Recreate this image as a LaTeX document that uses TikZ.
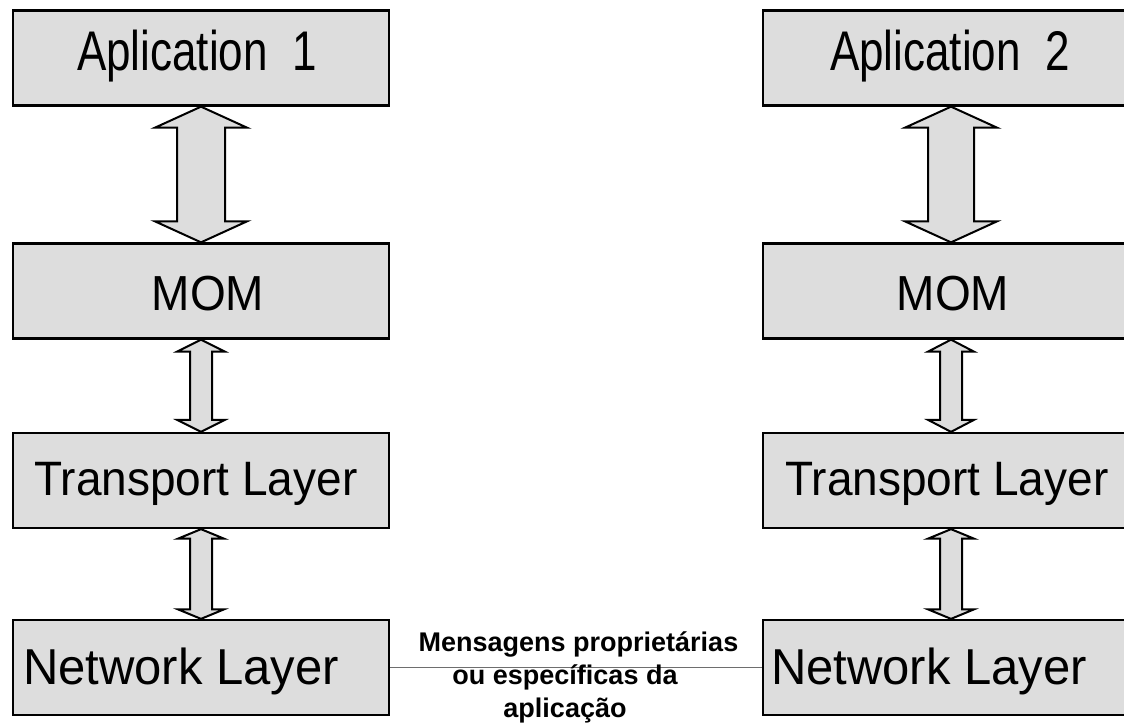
\documentclass[tikz,border=0pt]{standalone}
\usepackage{fontspec}
\setmainfont{Liberation Sans}
\usetikzlibrary{calc}
\definecolor{boxgray}{RGB}{221,221,221}
\definecolor{linegray}{RGB}{110,110,110}
\tikzset{
  layer/.style={draw=black, line width=2.3pt, fill=boxgray, minimum width=376pt,
    minimum height=95pt, inner sep=0pt},
  blockarrow/.style={draw=black, line width=2pt, fill=boxgray, line join=miter},
  msg/.style={font=\fontsize{27}{33}\selectfont\bfseries, align=center, inner sep=0pt},
  ltext/.style={anchor=base, inner sep=0pt},
}
% text with size #1 and vertical stretch #2
\newcommand{\lbltext}[3]{\fontsize{#1}{#1}\selectfont\scalebox{1}[#2]{#3}}
% #1 upper node, #2 lower node, #3 head half width, #4 shaft half width, #5 head length
\newcommand{\dblarrow}[5]{%
  \draw[blockarrow] let \p1=(#1.south), \p2=(#2.north) in
    (\x1,\y1) -- (\x1+#3pt,\y1-#5pt) -- (\x1+#4pt,\y1-#5pt) -- (\x1+#4pt,\y2+#5pt)
    -- (\x1+#3pt,\y2+#5pt) -- (\x1,\y2) -- (\x1-#3pt,\y2+#5pt) -- (\x1-#4pt,\y2+#5pt)
    -- (\x1-#4pt,\y1-#5pt) -- (\x1-#3pt,\y1-#5pt) -- cycle;}
\begin{document}
\begin{tikzpicture}[x=1pt,y=1pt]
\useasboundingbox (0,0) rectangle (1124,-724);
% left column
\node[layer] (a1) at (201,-58) {};
\node[layer] (m1) at (201,-291) {};
\node[layer] (t1) at (201,-480.5) {};
\node[layer] (n1) at (201,-667.5) {};
% right column
\node[layer] (a2) at (951,-58) {};
\node[layer] (m2) at (951,-291) {};
\node[layer] (t2) at (951,-480.5) {};
\node[layer] (n2) at (951,-667.5) {};
% texts (placed on baselines)
\node[ltext] (a1t) at ($(a1.center)+(-4,-12)$) {\lbltext{44}{1.27}{Aplication\ \ 1}};
\node[ltext] (a2t) at ($(a2.center)+(-1,-12)$) {\lbltext{44}{1.27}{Aplication\ \ 2}};
\node[ltext] (m1t) at ($(m1.center)+(7,-19)$) {\lbltext{46}{1.07}{MOM}};
\node[ltext] (m2t) at ($(m2.center)+(2,-19)$) {\lbltext{46}{1.07}{MOM}};
\node[ltext] (t1t) at ($(t1.center)+(-5,-15)$) {\lbltext{46}{1.05}{Transport Layer}};
\node[ltext] (t2t) at ($(t2.center)+(-4,-15)$) {\lbltext{46}{1.05}{Transport Layer}};
\node[ltext] (n1t) at ($(n1.center)+(-20,-17)$) {\lbltext{49}{1.03}{Network Layer}};
\node[ltext] (n2t) at ($(n2.center)+(-22,-17)$) {\lbltext{49}{1.03}{Network Layer}};
% block arrows
\dblarrow{a1}{m1}{46}{24}{21}
\dblarrow{m1}{t1}{24}{11}{12}
\dblarrow{t1}{n1}{23}{11}{9.5}
\dblarrow{a2}{m2}{46}{23}{21}
\dblarrow{m2}{t2}{23}{11}{12}
\dblarrow{t2}{n2}{23}{11}{9.5}
% message line
\draw[linegray, line width=1.5pt] (n1.east) -- (n2.west);
\node[msg] (lbl) at (578.5,-677) {Mensagens propriet\'arias\\ou espec\'ificas da\rule{27pt}{0pt}\\aplica\c{c}\~ao\rule{27pt}{0pt}};
\end{tikzpicture}
\end{document}
